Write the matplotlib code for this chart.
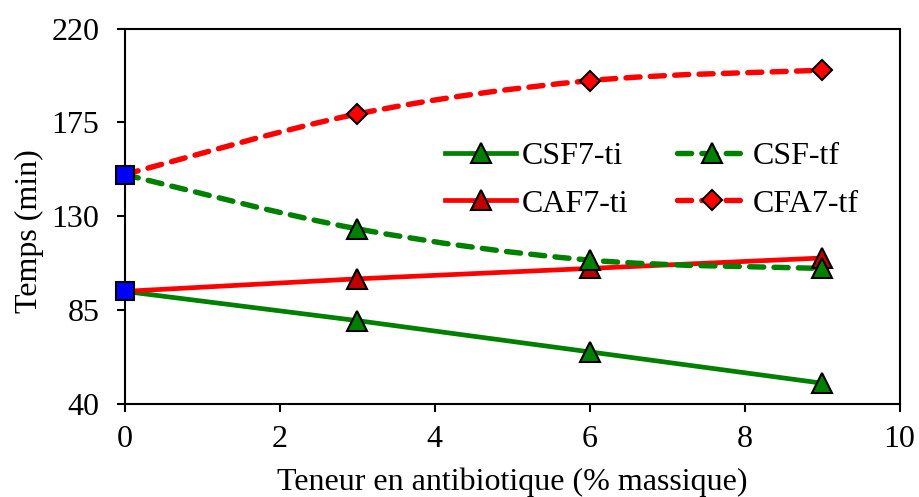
import matplotlib
matplotlib.use("Agg")
import matplotlib.pyplot as plt
from matplotlib.path import Path
from matplotlib.patches import PathPatch
from matplotlib.lines import Line2D
import numpy as np

plt.rcParams['font.family'] = ['Liberation Serif', 'DejaVu Serif']

x = [0, 3, 6, 9]
csf7_ti = [94, 80, 65, 50]
caf7_ti = [94, 100, 105, 110]
csf_tf = [150, 124, 109, 105]
cfa7_tf = [150, 179, 195, 200]

xticks = [0, 2, 4, 6, 8, 10]
yticks = [40, 85, 130, 175, 220]
xlabel = "Teneur en antibiotique (% massique)"
ylabel = "Temps (min)"
labels = ["CSF7-ti", "CAF7-ti", "CSF-tf", "CFA7-tf"]

fig = plt.figure(figsize=(9.19, 4.97), dpi=100)
ax = fig.add_axes([0.1355, 0.1871, 0.8433, 0.7555])

FS = 23
LW = 3.4
DLW = 3.9
DASH = (0, (2.6, 1.9))


def smooth_path(xs, ys):
    p = np.column_stack([xs, ys]).astype(float)
    n = len(p)
    verts = [p[0]]
    codes = [Path.MOVETO]
    for i in range(n - 1):
        p0 = p[i - 1] if i > 0 else p[i]
        p1 = p[i]
        p2 = p[i + 1]
        p3 = p[i + 2] if i + 2 < n else p[i + 1]
        c1 = p1 + (p2 - p0) / 6.0
        c2 = p2 - (p3 - p1) / 6.0
        verts += [c1, c2, p2]
        codes += [Path.CURVE4] * 3
    return Path(verts, codes)


green = '#008000'
red = '#FF0000'
darkred = '#C00000'
blue = '#0000FF'

ax.plot(x, csf7_ti, color=green, lw=LW, solid_capstyle='round', zorder=2)
ax.plot(x, caf7_ti, color=red, lw=LW, solid_capstyle='round', zorder=2)

for ys, col in [(csf_tf, green), (cfa7_tf, red)]:
    patch = PathPatch(smooth_path(x, ys), facecolor='none', edgecolor=col,
                      lw=DLW, linestyle=DASH, capstyle='round', zorder=2)
    ax.add_patch(patch)

MS = 14
MEW = 1.5
ax.plot(x[1:], csf7_ti[1:], ls='none', marker='^', ms=MS, mfc=green, mec='black', mew=MEW, zorder=3)
ax.plot(x[1:], caf7_ti[1:], ls='none', marker='^', ms=MS, mfc=darkred, mec='black', mew=MEW, zorder=3)
ax.plot(x[1:], csf_tf[1:], ls='none', marker='^', ms=MS, mfc=green, mec='black', mew=MEW, zorder=3)
ax.plot(x[1:], cfa7_tf[1:], ls='none', marker='D', ms=10.5, mfc=red, mec='black', mew=MEW, zorder=3)
ax.plot([x[0], x[0]], [csf7_ti[0], csf_tf[0]], ls='none', marker='s', ms=13.5,
        mfc=blue, mec='black', mew=MEW, zorder=4, clip_on=False)

ax.set_xlim(0, 10)
ax.set_ylim(40, 220)
ax.set_xticks(xticks)
ax.set_yticks(yticks)
ax.set_xticklabels([str(t) for t in xticks], fontsize=FS)
ax.set_yticklabels([str(t) for t in yticks], fontsize=FS)
ax.tick_params(axis='both', direction='out', length=6, width=1.5)
ax.tick_params(axis='x', pad=9)
ax.tick_params(axis='y', pad=12)
for s in ax.spines.values():
    s.set_linewidth(1.5)
ax.set_xlabel(xlabel, fontsize=FS)
ax.set_ylabel(ylabel, fontsize=FS)
ax.xaxis.set_label_coords(0.5, -0.168)
ax.yaxis.set_label_coords(-0.104, 0.46)

handles = [
    Line2D([], [], color=green, lw=LW, marker='^', ms=MS, mfc=green, mec='black', mew=MEW),
    Line2D([], [], color=red, lw=LW, marker='^', ms=MS, mfc=darkred, mec='black', mew=MEW),
    Line2D([], [], color=green, lw=DLW, ls=DASH, dash_capstyle='round', marker='^', ms=MS, mfc=green, mec='black', mew=MEW),
    Line2D([], [], color=red, lw=DLW, ls=DASH, dash_capstyle='round', marker='D', ms=10.5, mfc=red, mec='black', mew=MEW),
]
ax.legend(handles, labels, ncol=2, frameon=False, fontsize=FS,
          loc='upper left', bbox_to_anchor=(0.414, 0.699), handlelength=2.2,
          columnspacing=1.5, handletextpad=0.2, labelspacing=0.575,
          borderaxespad=0, borderpad=0)

fig.savefig("out.png", dpi=100)
